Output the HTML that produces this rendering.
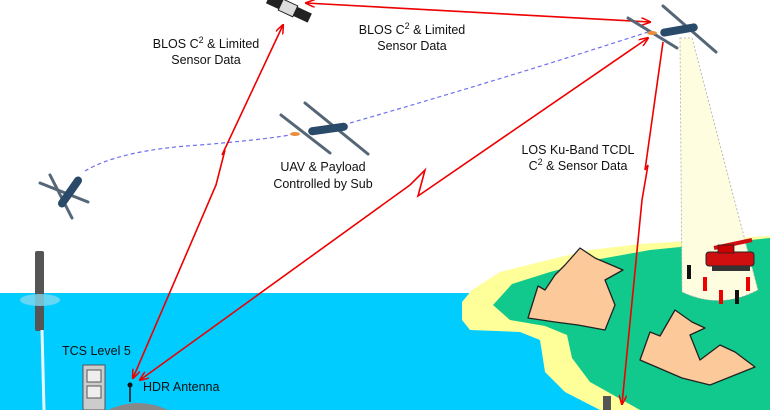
<!DOCTYPE html>
<html><head><meta charset="utf-8"><style>
html,body{margin:0;padding:0;background:#fff;width:770px;height:410px;overflow:hidden;}
svg{display:block;}
text{font-family:"Liberation Sans",sans-serif;font-size:12.5px;fill:#111;}
</style></head><body>
<svg width="770" height="410" viewBox="0 0 770 410" xmlns="http://www.w3.org/2000/svg" style="overflow:hidden">
<defs>
<marker id="ah" markerWidth="10" markerHeight="8" refX="9" refY="4" orient="auto-start-reverse" markerUnits="userSpaceOnUse">
<path d="M0,0 L10,4 L0,8" fill="none" stroke="#e00" stroke-width="1.5"/>
</marker>
</defs>
<rect x="0" y="293" width="770" height="117" fill="#00ccff"/>
<polygon points="462,302 472,290 500,272 540,262 590,250 640,244 770,236 770,410 600,410 565,392 545,372 540,340 520,332 470,330 462,320" fill="#ffff99"/>
<polygon points="493,305 512,284 550,272 600,259 650,250 770,238 770,410 640,410 590,382 572,358 567,335 545,326 510,320" fill="#11c98c"/>
<path d="M680,38 L692,38 L758,290 Q720,310 682,292 Z" fill="#fffde0" stroke="#aaa" stroke-width="0.8" stroke-dasharray="2,2"/>
<rect x="706" y="252" width="48" height="14" rx="3" fill="#d01010" stroke="#222"/>
<rect x="712" y="266" width="38" height="5" fill="#333"/>
<line x1="714" y1="248" x2="752" y2="240" stroke="#d01010" stroke-width="4"/>
<rect x="718" y="245" width="16" height="8" fill="#c00" stroke="#222" stroke-width="0.8"/>
<g fill="#111"><rect x="687" y="265" width="4" height="14"/><rect x="735" y="290" width="4" height="14"/></g>
<g fill="#e00"><rect x="703" y="277" width="4" height="14"/><rect x="719" y="290" width="4" height="14"/><rect x="746" y="277" width="4" height="14"/></g>
<g fill="#fcc99a" stroke="#222" stroke-width="1.3" stroke-linejoin="round">
<path d="M528,318 L538,286 L545,290 L555,275 L565,265 L580,248 L595,258 L623,270 L605,280 L615,305 L605,330 L578,325 L555,322 Z"/>
<path d="M640,360 L650,332 L660,336 L675,310 L692,322 L705,328 L690,335 L700,360 L720,345 L735,352 L755,367 L735,375 L710,385 L682,378 Z"/>
</g>
<rect x="35" y="251" width="9" height="80" fill="#555" rx="2"/>
<ellipse cx="40" cy="300" rx="20" ry="6" fill="#7fd8f0" opacity="0.8"/>
<line x1="42" y1="330" x2="44" y2="410" stroke="#e8f8ff" stroke-width="3"/>
<rect x="83" y="365" width="22" height="45" fill="#ccc" stroke="#555"/>
<rect x="87" y="370" width="14" height="12" fill="#eee" stroke="#555"/>
<rect x="87" y="386" width="14" height="12" fill="#eee" stroke="#555"/>
<path d="M108,410 Q138,396 168,410 Z" fill="#888"/>
<line x1="130" y1="383" x2="130" y2="402" stroke="#111" stroke-width="1.5"/>
<circle cx="130" cy="385" r="2.5" fill="#111"/>
<rect x="603" y="396" width="8" height="14" fill="#555"/>
<path d="M85,171 Q120,150 200,145 Q260,140 290,135 M350,123 Q500,80 648,32" fill="none" stroke="#6f6ff0" stroke-width="1.2" stroke-dasharray="4,3"/>
<g fill="none" stroke="#e00" stroke-width="1.6">
<path d="M306,3 L650,22" marker-start="url(#ah)" marker-end="url(#ah)"/>
<path d="M283,25 L222,155 L225,150 L216,185 L133,378" marker-start="url(#ah)" marker-end="url(#ah)"/>
<path d="M140,380 L410,185 L425,170 L418,196 L648,38" marker-start="url(#ah)" marker-end="url(#ah)"/>
<path d="M663,42 L645,170 L648,165 L642,200 L622,404" marker-end="url(#ah)"/>
</g>
<g transform="translate(288,8) rotate(25)">
<rect x="-22" y="-5" width="14" height="10" fill="#222"/>
<rect x="8" y="-5" width="16" height="10" fill="#222"/>
<rect x="-8" y="-6" width="16" height="12" fill="#ddd" stroke="#222"/>
</g>
<g stroke="#556677" stroke-width="3" stroke-linecap="round">
<line x1="628" y1="18" x2="677" y2="48"/><line x1="663" y1="6" x2="716" y2="52"/>
<line x1="281" y1="115" x2="330" y2="153"/><line x1="305" y1="103" x2="368" y2="154"/>
<line x1="40" y1="183" x2="88" y2="202"/><line x1="50" y1="175" x2="72" y2="218"/>
</g>
<g fill="#2a4a6a">
<rect x="660" y="26" width="38" height="8" rx="4" transform="rotate(-10 679 30)"/>
<rect x="308" y="125" width="40" height="8" rx="4" transform="rotate(-8 328 129)"/>
<rect x="52" y="188" width="36" height="8" rx="4" transform="rotate(-55 70 192)"/>
</g>
<ellipse cx="652" cy="33" rx="5" ry="2" fill="#e89040"/>
<ellipse cx="295" cy="134" rx="5" ry="2" fill="#e89040"/>
<text x="206" y="48" text-anchor="middle">BLOS C<tspan dy="-5" font-size="9">2</tspan><tspan dy="5"> &amp; Limited</tspan></text>
<text x="206" y="64" text-anchor="middle">Sensor Data</text>
<text x="412" y="34" text-anchor="middle">BLOS C<tspan dy="-5" font-size="9">2</tspan><tspan dy="5"> &amp; Limited</tspan></text>
<text x="412" y="50" text-anchor="middle">Sensor Data</text>
<text x="323" y="171" text-anchor="middle">UAV &amp; Payload</text>
<text x="323" y="188" text-anchor="middle">Controlled by Sub</text>
<text x="578" y="154" text-anchor="middle">LOS Ku-Band TCDL</text>
<text x="578" y="170" text-anchor="middle">C<tspan dy="-5" font-size="9">2</tspan><tspan dy="5"> &amp; Sensor Data</tspan></text>
<text x="62" y="355">TCS Level 5</text>
<text x="143" y="391">HDR Antenna</text>
</svg>
</body></html>
